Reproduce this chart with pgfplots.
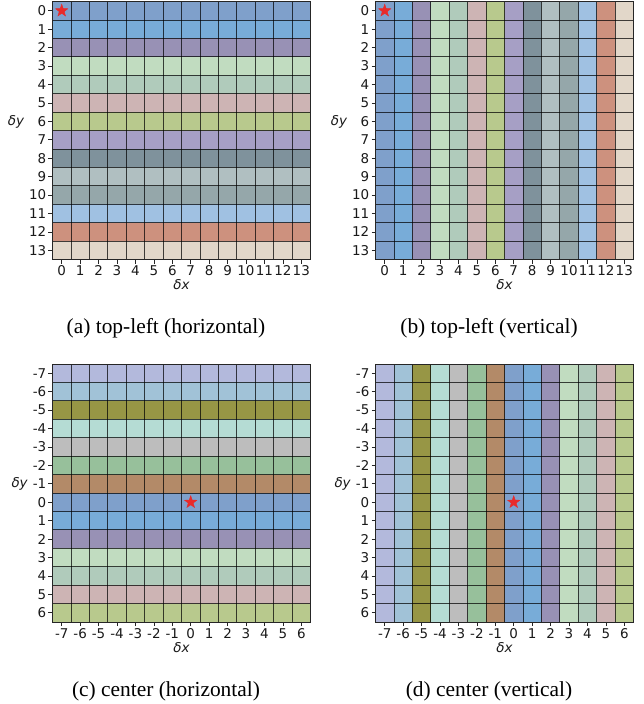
\documentclass[border=0pt]{standalone}
\usepackage{pgfplots}
\pgfplotsset{compat=1.18}
\usepackage{fontspec}
\setmainfont{Liberation Serif}
\newfontfamily\dejavu{DejaVu Sans}
\definecolor{A0}{HTML}{7FA0CB}
\definecolor{A1}{HTML}{78ACD8}
\definecolor{A2}{HTML}{9891B5}
\definecolor{A3}{HTML}{C1DCC0}
\definecolor{A4}{HTML}{B0CBBB}
\definecolor{A5}{HTML}{CDB4B4}
\definecolor{A6}{HTML}{B8C98D}
\definecolor{A7}{HTML}{A69FC5}
\definecolor{A8}{HTML}{7F929C}
\definecolor{A9}{HTML}{B0BFC1}
\definecolor{A10}{HTML}{95A7AA}
\definecolor{A11}{HTML}{A0C1E2}
\definecolor{A12}{HTML}{CD917E}
\definecolor{A13}{HTML}{E2D7C9}
\definecolor{M7}{HTML}{B3B9DC}
\definecolor{M6}{HTML}{A1C2D7}
\definecolor{M5}{HTML}{979645}
\definecolor{M4}{HTML}{B5DCD4}
\definecolor{M3}{HTML}{BDBDBD}
\definecolor{M2}{HTML}{97C09B}
\definecolor{M1}{HTML}{B38A68}
\definecolor{starred}{HTML}{E82A2A}
\pgfdeclareplotmark{fstar}{%
  \pgfpathmoveto{\pgfpointpolar{90}{\pgfplotmarksize}}%
  \pgfpathlineto{\pgfpointpolar{126}{0.4\pgfplotmarksize}}%
  \pgfpathlineto{\pgfpointpolar{162}{\pgfplotmarksize}}%
  \pgfpathlineto{\pgfpointpolar{198}{0.4\pgfplotmarksize}}%
  \pgfpathlineto{\pgfpointpolar{234}{\pgfplotmarksize}}%
  \pgfpathlineto{\pgfpointpolar{270}{0.4\pgfplotmarksize}}%
  \pgfpathlineto{\pgfpointpolar{306}{\pgfplotmarksize}}%
  \pgfpathlineto{\pgfpointpolar{342}{0.4\pgfplotmarksize}}%
  \pgfpathlineto{\pgfpointpolar{18}{\pgfplotmarksize}}%
  \pgfpathlineto{\pgfpointpolar{54}{0.4\pgfplotmarksize}}%
  \pgfpathclose\pgfusepathqfillstroke}
\newcommand\cell[5]{\addplot[draw=none,fill=#5] coordinates {(#1,#3) (#2,#3) (#2,#4) (#1,#4)} -- cycle;}
\newcommand\lblfont{\dejavu\fontsize{13.5}{14}\selectfont}
\pgfplotsset{
  panel/.style={
    width=258bp, height=258bp, scale only axis, anchor=north west,
    y dir=reverse, axis on top,
    tick align=outside, xtick pos=left, ytick pos=left,
    major tick length=4bp, minor tick length=0pt,
    tick style={black!85, line width=0.7bp},
    axis line style={black!85, line width=0.8bp},
    grid=minor,
    minor grid style={black, opacity=0.72, line width=0.85bp},
    tick label style={font=\lblfont, black!90},
    xticklabel style={inner sep=2bp},
    yticklabel style={inner sep=2bp},
    every axis x label/.style={at={(ticklabel cs:0.5)}, anchor=north, inner sep=1.5bp, font=\lblfont\itshape, black!90},
    every axis y label/.style={at={(ticklabel cs:0.535)}, anchor=east, inner sep=3bp, font=\lblfont\itshape, black!90},
    xlabel={δx}, ylabel={δy},
  },
  tl/.style={panel, xmin=-0.5, xmax=13.5, ymin=-0.5, ymax=13.5,
    xtick={0,...,13}, ytick={0,...,13},
    xticklabels={0,1,2,3,4,5,6,7,8,9,10,11,12,13},
    yticklabels={0,1,2,3,4,5,6,7,8,9,10,11,12,13},
    minor xtick={-0.5,0.5,...,13.5}, minor ytick={-0.5,0.5,...,13.5}},
  ct/.style={panel, xmin=-7.5, xmax=6.5, ymin=-7.5, ymax=6.5,
    xtick={-7,...,6}, ytick={-7,...,6},
    xticklabels={-7,-6,-5,-4,-3,-2,-1,0,1,2,3,4,5,6},
    yticklabels={-7,-6,-5,-4,-3,-2,-1,0,1,2,3,4,5,6},
    minor xtick={-7.5,-6.5,...,6.5}, minor ytick={-7.5,-6.5,...,6.5}},
}
\begin{document}
\begin{tikzpicture}
\useasboundingbox (0,0) rectangle (644bp,-704bp);
% (a) top-left horizontal
\begin{axis}[tl, at={(52.5bp,-1.5bp)}]
\cell{-0.5}{13.5}{-0.5}{0.5}{A0}
\cell{-0.5}{13.5}{0.5}{1.5}{A1}
\cell{-0.5}{13.5}{1.5}{2.5}{A2}
\cell{-0.5}{13.5}{2.5}{3.5}{A3}
\cell{-0.5}{13.5}{3.5}{4.5}{A4}
\cell{-0.5}{13.5}{4.5}{5.5}{A5}
\cell{-0.5}{13.5}{5.5}{6.5}{A6}
\cell{-0.5}{13.5}{6.5}{7.5}{A7}
\cell{-0.5}{13.5}{7.5}{8.5}{A8}
\cell{-0.5}{13.5}{8.5}{9.5}{A9}
\cell{-0.5}{13.5}{9.5}{10.5}{A10}
\cell{-0.5}{13.5}{10.5}{11.5}{A11}
\cell{-0.5}{13.5}{11.5}{12.5}{A12}
\cell{-0.5}{13.5}{12.5}{13.5}{A13}
\addplot[only marks, mark=fstar, mark size=6.5bp, color=starred] coordinates {(0,0)};
\end{axis}
% (b) top-left vertical
\begin{axis}[tl, at={(375.5bp,-1.5bp)}]
\cell{-0.5}{0.5}{-0.5}{13.5}{A0}
\cell{0.5}{1.5}{-0.5}{13.5}{A1}
\cell{1.5}{2.5}{-0.5}{13.5}{A2}
\cell{2.5}{3.5}{-0.5}{13.5}{A3}
\cell{3.5}{4.5}{-0.5}{13.5}{A4}
\cell{4.5}{5.5}{-0.5}{13.5}{A5}
\cell{5.5}{6.5}{-0.5}{13.5}{A6}
\cell{6.5}{7.5}{-0.5}{13.5}{A7}
\cell{7.5}{8.5}{-0.5}{13.5}{A8}
\cell{8.5}{9.5}{-0.5}{13.5}{A9}
\cell{9.5}{10.5}{-0.5}{13.5}{A10}
\cell{10.5}{11.5}{-0.5}{13.5}{A11}
\cell{11.5}{12.5}{-0.5}{13.5}{A12}
\cell{12.5}{13.5}{-0.5}{13.5}{A13}
\addplot[only marks, mark=fstar, mark size=6.5bp, color=starred] coordinates {(0,0)};
\end{axis}
% (c) center horizontal
\begin{axis}[ct, at={(52.5bp,-364bp)}]
\cell{-7.5}{6.5}{-7.5}{-6.5}{M7}
\cell{-7.5}{6.5}{-6.5}{-5.5}{M6}
\cell{-7.5}{6.5}{-5.5}{-4.5}{M5}
\cell{-7.5}{6.5}{-4.5}{-3.5}{M4}
\cell{-7.5}{6.5}{-3.5}{-2.5}{M3}
\cell{-7.5}{6.5}{-2.5}{-1.5}{M2}
\cell{-7.5}{6.5}{-1.5}{-0.5}{M1}
\cell{-7.5}{6.5}{-0.5}{0.5}{A0}
\cell{-7.5}{6.5}{0.5}{1.5}{A1}
\cell{-7.5}{6.5}{1.5}{2.5}{A2}
\cell{-7.5}{6.5}{2.5}{3.5}{A3}
\cell{-7.5}{6.5}{3.5}{4.5}{A4}
\cell{-7.5}{6.5}{4.5}{5.5}{A5}
\cell{-7.5}{6.5}{5.5}{6.5}{A6}
\addplot[only marks, mark=fstar, mark size=6.5bp, color=starred] coordinates {(0,0)};
\end{axis}
% (d) center vertical
\begin{axis}[ct, at={(375.5bp,-364bp)}]
\cell{-7.5}{-6.5}{-7.5}{6.5}{M7}
\cell{-6.5}{-5.5}{-7.5}{6.5}{M6}
\cell{-5.5}{-4.5}{-7.5}{6.5}{M5}
\cell{-4.5}{-3.5}{-7.5}{6.5}{M4}
\cell{-3.5}{-2.5}{-7.5}{6.5}{M3}
\cell{-2.5}{-1.5}{-7.5}{6.5}{M2}
\cell{-1.5}{-0.5}{-7.5}{6.5}{M1}
\cell{-0.5}{0.5}{-7.5}{6.5}{A0}
\cell{0.5}{1.5}{-7.5}{6.5}{A1}
\cell{1.5}{2.5}{-7.5}{6.5}{A2}
\cell{2.5}{3.5}{-7.5}{6.5}{A3}
\cell{3.5}{4.5}{-7.5}{6.5}{A4}
\cell{4.5}{5.5}{-7.5}{6.5}{A5}
\cell{5.5}{6.5}{-7.5}{6.5}{A6}
\addplot[only marks, mark=fstar, mark size=6.5bp, color=starred] coordinates {(0,0)};
\end{axis}
\node[font=\fontsize{21.5}{24}\selectfont, anchor=base] at (166bp,-333bp) {(a) top-left (horizontal)};
\node[font=\fontsize{21.5}{24}\selectfont, anchor=base] at (489bp,-333bp) {(b) top-left (vertical)};
\node[font=\fontsize{21.5}{24}\selectfont, anchor=base] at (166bp,-696bp) {(c) center (horizontal)};
\node[font=\fontsize{21.5}{24}\selectfont, anchor=base] at (489bp,-696bp) {(d) center (vertical)};
\end{tikzpicture}
\end{document}
